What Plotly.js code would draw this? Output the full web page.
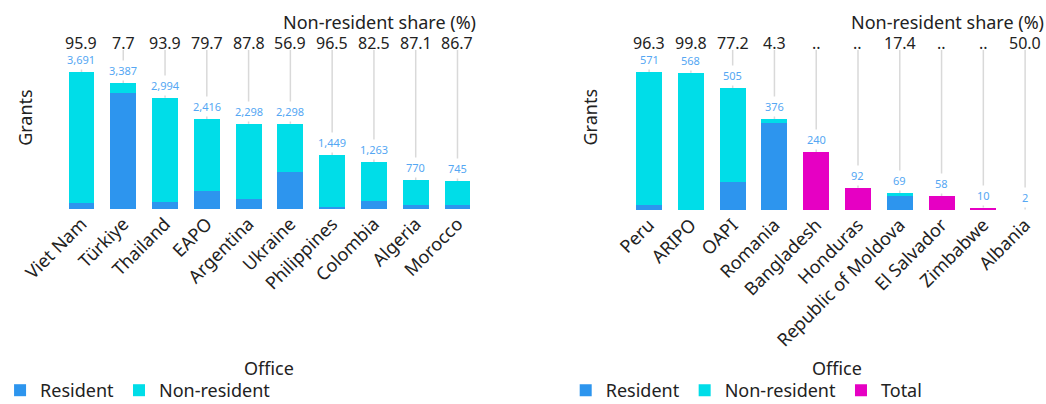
<!DOCTYPE html>
<html>
<head>
<meta charset="utf-8">
<script src="https://cdn.plot.ly/plotly-3.0.1.min.js"></script>
<style>html,body{margin:0;padding:0;background:#fff;overflow:hidden;}#wrap{width:1046px;height:404px;overflow:hidden;}#chart{width:1046px;height:409px;}</style>
</head>
<body>
<div id="wrap"><div id="chart"></div></div>
<script>
// Left panel
const catsA = ["Viet Nam","Türkiye","Thailand","EAPO","Argentina","Ukraine","Philippines","Colombia","Algeria","Morocco"];
const totalA = [3691,3387,2994,2416,2298,2298,1449,1263,770,745];
const residentA = [151,3126,183,490,280,990,51,221,99,99];
const nonResidentA = [3540,261,2811,1926,2018,1308,1398,1042,671,646];
const shareA = ["95.9","7.7","93.9","79.7","87.8","56.9","96.5","82.5","87.1","86.7"];

// Right panel
const catsB = ["Peru","ARIPO","OAPI","Romania","Bangladesh","Honduras","Republic of Moldova","El Salvador","Zimbabwe","Albania"];
const totalB = [571,568,505,376,240,92,69,58,10,2];
const residentB = [21,1,115,360,null,null,57,null,null,1];
const nonResidentB = [550,567,390,16,null,null,12,null,null,1];
const totalOnlyB = [null,null,null,null,240,92,null,58,10,null];
const shareB = ["96.3","99.8","77.2","4.3","..","..","17.4","..","..","50.0"];

const C_RES = "#2d95ee", C_NON = "#00dde8", C_TOT = "#e600c3";
const FONT = "Noto Sans, sans-serif";
const TXT = "#222";
const W = 1046, H = 409;
const py = p => (H - p) / H;   // pixel row -> paper fraction
const px = p => p / W;

const traces = [
  {type:"bar", name:"Resident", x:catsA, y:residentA, xaxis:"x", yaxis:"y", marker:{color:C_RES}, legend:"legend", hoverinfo:"skip"},
  {type:"bar", name:"Non-resident", x:catsA, y:nonResidentA, xaxis:"x", yaxis:"y", marker:{color:C_NON}, legend:"legend", hoverinfo:"skip"},
  {type:"bar", name:"Resident", x:catsB, y:residentB, xaxis:"x2", yaxis:"y2", marker:{color:C_RES}, legend:"legend2", hoverinfo:"skip"},
  {type:"bar", name:"Non-resident", x:catsB, y:nonResidentB, xaxis:"x2", yaxis:"y2", marker:{color:C_NON}, legend:"legend2", hoverinfo:"skip"},
  {type:"bar", name:"Total", x:catsB, y:totalOnlyB, xaxis:"x2", yaxis:"y2", marker:{color:C_TOT}, legend:"legend2", hoverinfo:"skip"}
];

const maxA = Math.max(...totalA) * 1.16;
const maxB = Math.max(...totalB) * 1.16;

const shapes = [];
const annotations = [];
function panel(cats, totals, shares, xr, yr, ymax) {
  cats.forEach((c, i) => {
    shapes.push({type:"line", layer:"below", xref:xr, yref:yr, x0:c, x1:c, y0:totals[i], y1:ymax,
      line:{color:"#d9d9d9", width:1.5}});
    annotations.push({xref:xr, yref:yr, x:c, y:totals[i], text:totals[i].toLocaleString("en-US"),
      showarrow:false, yanchor:"bottom", yshift:2, bgcolor:"#ffffff", borderpad:2,
      font:{family:FONT, size:11, color:"#55a7f3"}});
    annotations.push({xref:xr, yref:yr + " domain", x:c, y:1, text:shares[i], showarrow:false,
      yanchor:"middle", yshift:7, font:{family:FONT, size:16, color:TXT}});
  });
  annotations.push({xref:xr + " domain", yref:yr + " domain", x:1, y:1, xanchor:"right", yanchor:"middle", yshift:28,
    text:"Non-resident share (%)", showarrow:false, font:{family:FONT, size:18, color:TXT}});
  annotations.push({xref:xr + " domain", yref:"paper", x:0.5, y:py(368), xanchor:"center", yanchor:"middle",
    text:"Office", showarrow:false, font:{family:FONT, size:18, color:TXT}});
}
panel(catsA, totalA, shareA, "x", "y", maxA);
panel(catsB, totalB, shareB, "x2", "y2", maxB);

annotations.push({xref:"paper", yref:"paper", x:px(17), y:py(117), xanchor:"center", yanchor:"middle", textangle:-90,
  text:"Grants", showarrow:false, font:{family:FONT, size:18, color:TXT}});
annotations.push({xref:"paper", yref:"paper", x:px(586), y:py(117), xanchor:"center", yanchor:"middle", textangle:-90,
  text:"Grants", showarrow:false, font:{family:FONT, size:18, color:TXT}});

const xax = {tickangle:-45, tickfont:{size:18, color:TXT}, showline:false, showgrid:false, zeroline:false, ticks:"", automargin:false};
const yax = {showticklabels:false, showgrid:false, zeroline:false, automargin:false};

const layout = {
  width:W, height:H,
  margin:{l:0, r:0, t:0, b:0},
  paper_bgcolor:"#fff", plot_bgcolor:"#fff",
  barmode:"stack", bargap:0.38,
  font:{family:FONT, color:TXT},
  xaxis:Object.assign({domain:[px(53), px(474)], anchor:"y"}, xax),
  yaxis:Object.assign({domain:[py(209), py(50)], anchor:"x", range:[0, maxA]}, yax),
  xaxis2:Object.assign({domain:[px(625), 1], anchor:"y2"}, xax),
  yaxis2:Object.assign({domain:[py(210), py(50)], anchor:"x2", range:[0, maxB]}, yax),
  legend:{orientation:"h", x:px(-8), xanchor:"left", y:0, yanchor:"bottom", font:{size:18, color:TXT}, traceorder:"normal"},
  legend2:{orientation:"h", x:px(562), xanchor:"left", y:0, yanchor:"bottom", font:{size:18, color:TXT}, traceorder:"normal"},
  shapes:shapes,
  annotations:annotations,
  showlegend:true
};

Plotly.newPlot("chart", traces, layout, {displayModeBar:false, staticPlot:true});
</script>
</body>
</html>
